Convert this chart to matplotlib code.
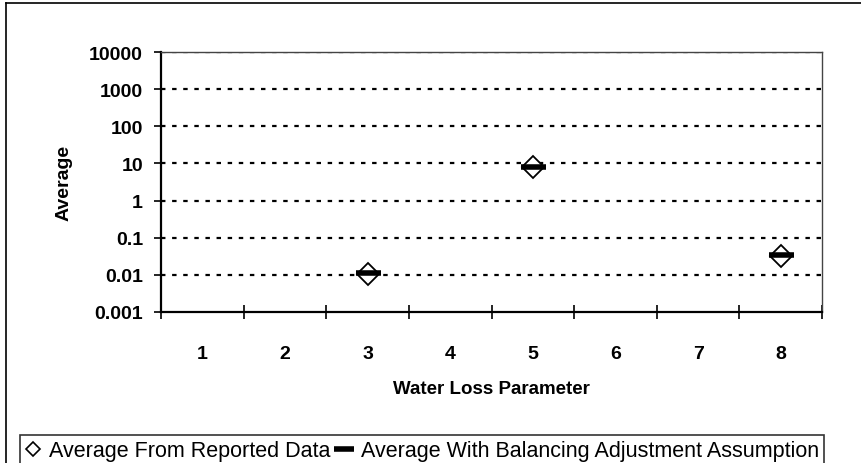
import numpy as np
import matplotlib
matplotlib.use("Agg")
import matplotlib.pyplot as plt
from matplotlib.lines import Line2D

plt.rcParams['font.family'] = ['Liberation Sans', 'DejaVu Sans']

# parameters 1..8, only three have data
params = ["1", "2", "3", "4", "5", "6", "7", "8"]
reported_x = [3, 5, 8]
reported_avg = [0.0105, 7.8, 0.033]
balanced_x = [3, 5, 8]
balanced_avg = [0.011, 8.1, 0.034]
y_ticks = [0.001, 0.01, 0.1, 1, 10, 100, 1000, 10000]
y_labels = ["0.001", "0.01", "0.1", "1", "10", "100", "1000", "10000"]

fig = plt.figure(figsize=(8.61, 4.64), dpi=100)
ax = fig.add_axes([161/861, 1 - 313/464, (822-161)/861, (313-53)/464])

ax.set_yscale('log')
ax.set_ylim(0.001, 10000)
ax.set_xlim(0.5, 8.5)

# dashed gridlines at each decade
for v in y_ticks[1:]:
    ax.axhline(v, color='black', lw=1.6, ls=(0, (2, 3)), zorder=1)

ax.plot(reported_x, reported_avg, ls='none', marker='D', markersize=11,
        markerfacecolor='white', markeredgecolor='black', markeredgewidth=1.3, zorder=3)
ax.plot(balanced_x, balanced_avg, ls='none', marker='_', markersize=18,
        markeredgewidth=4, color='black', zorder=4)

ax.set_yticks(y_ticks)
ax.set_yticklabels(y_labels, fontsize=14, fontweight='bold')
ax.yaxis.set_minor_locator(matplotlib.ticker.NullLocator())
ax.tick_params(axis='y', direction='out', length=5, width=1.2, pad=8)

ax.set_xticks(range(1, 9))
ax.set_xticklabels(params, fontsize=14, fontweight='bold')
ax.set_xticks(np.arange(0.5, 9, 1), minor=True)
ax.tick_params(axis='x', which='major', length=0, pad=24)
ax.tick_params(axis='x', which='minor', direction='inout', length=10, width=1.2)

for s in ['left', 'bottom']:
    ax.spines[s].set_linewidth(1.6)
for s in ['top', 'right']:
    ax.spines[s].set_linewidth(1.0)
    ax.spines[s].set_color('#444444')

ax.set_ylabel("Average", fontsize=14, fontweight='bold', labelpad=12)
ax.set_xlabel("Water Loss Parameter", fontsize=13.5, fontweight='bold', labelpad=13)

# outer chart border (cut off at right and bottom)
fig.add_artist(Line2D([6/861, 6/861], [0, 1 - 4/464], color='black', lw=1.2))
fig.add_artist(Line2D([6/861, 1], [1 - 4/464, 1 - 4/464], color='black', lw=1.2))

handles = [
    Line2D([], [], ls='none', marker='D', markersize=7, markerfacecolor='white',
           markeredgecolor='black', markeredgewidth=1.2),
    Line2D([], [], ls='none', marker='_', markersize=14, markeredgewidth=4, color='black'),
]
leg = fig.legend(handles, ["Average From Reported Data",
                           "Average With Balancing Adjustment Assumption"],
                 loc='lower left', bbox_to_anchor=(20/861, -0.008),
                 ncol=2, fontsize=15.5, frameon=True, fancybox=False, edgecolor='black',
                 handlelength=0.7, handletextpad=0.4, columnspacing=0.3,
                 borderpad=0.25, borderaxespad=0)
leg.get_frame().set_linewidth(1.2)

fig.savefig("out.png", dpi=100)
